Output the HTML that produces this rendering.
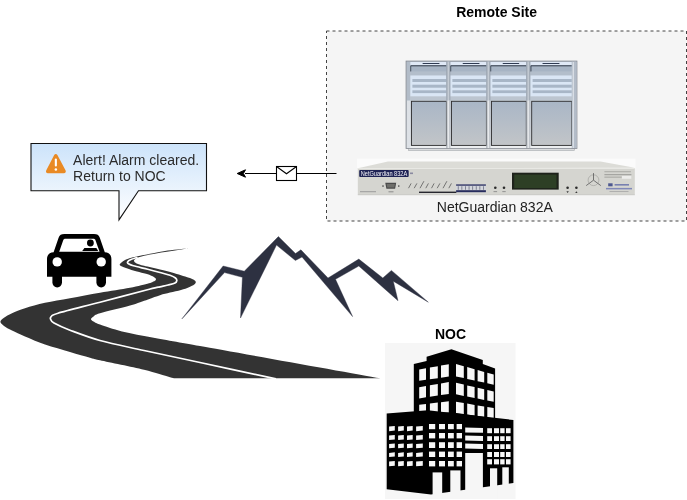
<!DOCTYPE html>
<html><head><meta charset="utf-8">
<style>
html,body{margin:0;padding:0;background:#fff;width:687px;height:500px;overflow:hidden}
svg{display:block}
text{font-family:"Liberation Sans",sans-serif}
svg{will-change:transform}
</style></head><body>
<svg width="687" height="500" viewBox="0 0 687 500">
<defs>
<linearGradient id="cg" x1="0" y1="0" x2="0" y2="1">
<stop offset="0" stop-color="#cce3fa"/><stop offset="1" stop-color="#ffffff"/>
</linearGradient>
<linearGradient id="door" x1="0" y1="0" x2="0" y2="1">
<stop offset="0" stop-color="#adbac8"/><stop offset="1" stop-color="#c6c9cc"/>
</linearGradient>
</defs>

<!-- Remote site container -->
<rect x="326.5" y="31" width="360" height="190" fill="#f5f5f5" stroke="#444" stroke-dasharray="3 3"/>
<text x="496.6" y="16.6" font-size="14" font-weight="bold" text-anchor="middle" fill="#000">Remote Site</text>

<!-- server racks -->
<g id="racks"><defs><linearGradient id="rdoor" x1="0" y1="0" x2="0" y2="1"><stop offset="0" stop-color="#a9b6c6"/><stop offset="1" stop-color="#c2c5c8"/></linearGradient><linearGradient id="rdiv" x1="0" y1="0" x2="1" y2="0"><stop offset="0" stop-color="#8f99a6"/><stop offset="0.5" stop-color="#c9d0d8"/><stop offset="1" stop-color="#8f99a6"/></linearGradient><linearGradient id="rdiv2" x1="0" y1="0" x2="1" y2="0"><stop offset="0" stop-color="#9da3ab"/><stop offset="0.5" stop-color="#eceef0"/><stop offset="1" stop-color="#a4aab2"/></linearGradient><linearGradient id="rside" x1="0" y1="0" x2="0" y2="1"><stop offset="0" stop-color="#b9c3d0"/><stop offset="1" stop-color="#d9dcdf"/></linearGradient></defs>
<rect x="408.5" y="148.2" width="166" height="2.4" fill="#dadcde" stroke="#a8abae" stroke-width="0.6"/>
<rect x="406.1" y="61.1" width="170.8" height="87.3" fill="url(#rside)" stroke="#868b93" stroke-width="0.9"/>
<rect x="410.2" y="62" width="36.2" height="3.4" fill="#e0e9f6"/>
<rect x="422.5" y="62.9" width="17.1" height="1.2" rx="0.6" fill="#2f3b52"/>
<rect x="410.2" y="65.3" width="36.2" height="6.4" fill="#a7b4c4"/>
<path d="M410.7 71.6V65.8H446.4" fill="none" stroke="#323c4b" stroke-width="1"/>
<rect x="410.2" y="71.7" width="36.2" height="3.8" fill="#b3becb"/>
<rect x="410.2" y="75.5" width="36.2" height="21" fill="#dae6f5"/>
<rect x="412.4" y="79.0" width="34.0" height="3.0" fill="#a8b6c7"/>
<rect x="412.4" y="84.7" width="34.0" height="3.0" fill="#a8b6c7"/>
<rect x="412.4" y="90.3" width="34.0" height="2.8" fill="#a8b6c7"/>
<rect x="410.2" y="96.5" width="36.2" height="4" fill="#bcc5d0"/>
<rect x="408.7" y="145.9" width="37.7" height="2.2" fill="#eceef0"/>
<rect x="411.5" y="101.3" width="34.9" height="44.1" fill="url(#rdoor)" stroke="#2e2e30" stroke-width="0.9"/>
<rect x="450.2" y="62" width="36.2" height="3.4" fill="#e0e9f6"/>
<rect x="462.6" y="62.9" width="17.0" height="1.2" rx="0.6" fill="#2f3b52"/>
<rect x="450.2" y="65.3" width="36.2" height="6.4" fill="#a7b4c4"/>
<path d="M450.7 71.6V65.8H486.4" fill="none" stroke="#323c4b" stroke-width="1"/>
<rect x="450.2" y="71.7" width="36.2" height="3.8" fill="#b3becb"/>
<rect x="450.2" y="75.5" width="36.2" height="21" fill="#dae6f5"/>
<rect x="452.4" y="79.0" width="34.0" height="3.0" fill="#a8b6c7"/>
<rect x="452.4" y="84.7" width="34.0" height="3.0" fill="#a8b6c7"/>
<rect x="452.4" y="90.3" width="34.0" height="2.8" fill="#a8b6c7"/>
<rect x="450.2" y="96.5" width="36.2" height="4" fill="#bcc5d0"/>
<rect x="448.7" y="145.9" width="37.7" height="2.2" fill="#eceef0"/>
<rect x="451.5" y="101.3" width="34.9" height="44.1" fill="url(#rdoor)" stroke="#2e2e30" stroke-width="0.9"/>
<rect x="490.2" y="62" width="36.1" height="3.4" fill="#e0e9f6"/>
<rect x="502.6" y="62.9" width="16.7" height="1.2" rx="0.6" fill="#2f3b52"/>
<rect x="490.2" y="65.3" width="36.1" height="6.4" fill="#a7b4c4"/>
<path d="M490.7 71.6V65.8H526.3" fill="none" stroke="#323c4b" stroke-width="1"/>
<rect x="490.2" y="71.7" width="36.1" height="3.8" fill="#b3becb"/>
<rect x="490.2" y="75.5" width="36.1" height="21" fill="#dae6f5"/>
<rect x="492.4" y="79.0" width="33.9" height="3.0" fill="#a8b6c7"/>
<rect x="492.4" y="84.7" width="33.9" height="3.0" fill="#a8b6c7"/>
<rect x="492.4" y="90.3" width="33.9" height="2.8" fill="#a8b6c7"/>
<rect x="490.2" y="96.5" width="36.1" height="4" fill="#bcc5d0"/>
<rect x="488.7" y="145.9" width="37.6" height="2.2" fill="#eceef0"/>
<rect x="491.5" y="101.3" width="34.8" height="44.1" fill="url(#rdoor)" stroke="#2e2e30" stroke-width="0.9"/>
<rect x="530.4" y="62" width="41.4" height="3.4" fill="#e0e9f6"/>
<rect x="542.4" y="62.9" width="17.2" height="1.2" rx="0.6" fill="#2f3b52"/>
<rect x="530.4" y="65.3" width="41.4" height="6.4" fill="#a7b4c4"/>
<path d="M530.9 71.6V65.8H571.8" fill="none" stroke="#323c4b" stroke-width="1"/>
<rect x="530.4" y="71.7" width="41.4" height="3.8" fill="#b3becb"/>
<rect x="530.4" y="75.5" width="41.4" height="21" fill="#dae6f5"/>
<rect x="532.6" y="79.0" width="39.2" height="3.0" fill="#a8b6c7"/>
<rect x="532.6" y="84.7" width="39.2" height="3.0" fill="#a8b6c7"/>
<rect x="532.6" y="90.3" width="39.2" height="2.8" fill="#a8b6c7"/>
<rect x="530.4" y="96.5" width="41.4" height="4" fill="#bcc5d0"/>
<rect x="528.9" y="145.9" width="42.9" height="2.2" fill="#eceef0"/>
<rect x="531.7" y="101.3" width="40.1" height="44.1" fill="url(#rdoor)" stroke="#2e2e30" stroke-width="0.9"/>
<rect x="446.4" y="61.6" width="3.9" height="39" fill="url(#rdiv)"/>
<rect x="446.4" y="100.6" width="3.9" height="47.5" fill="url(#rdiv2)"/>
<rect x="486.4" y="61.6" width="3.9" height="39" fill="url(#rdiv)"/>
<rect x="486.4" y="100.6" width="3.9" height="47.5" fill="url(#rdiv2)"/>
<rect x="526.3" y="61.6" width="3.9" height="39" fill="url(#rdiv)"/>
<rect x="526.3" y="100.6" width="3.9" height="47.5" fill="url(#rdiv2)"/>
<rect x="407" y="62" width="3.2" height="38.6" fill="#b2bcc8"/>
<rect x="407" y="100.6" width="3.2" height="47.4" fill="#dde1e6"/>
<rect x="571.8" y="61.6" width="4.8" height="86.5" fill="#b3bcc8"/>
<rect x="572.6" y="62" width="1.4" height="86" fill="#d8dde4"/></g>

<!-- device -->
<g id="device"><rect x="357" y="158.6" width="278.5" height="10" fill="#fbfbfb"/>
<path d="M357.8 168.2L388 161.4H600.5L634.8 167.8Z" fill="#dcdcd7"/>
<rect x="357.8" y="168" width="277" height="26.4" fill="#d5d5d0"/>
<rect x="357.8" y="168" width="277" height="1" fill="#e8e8e4"/>
<rect x="357.8" y="194.2" width="277" height="1" fill="#c6c6c2"/>
<rect x="359.2" y="170.1" width="49.5" height="6.9" rx="1" fill="#1f2354"/>
<text x="360.8" y="175.8" font-size="6.4" fill="#f4f4fa" textLength="46.4" lengthAdjust="spacingAndGlyphs">NetGuardian 832A</text>
<rect x="410" y="172.5" width="3" height="1.6" fill="#8a8aa0"/>
<path d="M385.3 182.8H396.2L395.1 188.8H386.4Z" fill="#4b4b4b"/>
<path d="M386.6 184H394.9L394.2 187.6H387.3Z" fill="#6e6e6a"/>
<circle cx="383" cy="186.1" r="0.8" fill="#444"/><circle cx="398.8" cy="186.1" r="0.8" fill="#444"/>
<rect x="360" y="191.2" width="16" height="1" fill="#9c9c9c"/>
<rect x="388.5" y="191.3" width="5" height="1" fill="#8a8a8a"/>
<path d="M408.5 188.2L411.1 183.4" stroke="#5a5a5a" stroke-width="0.8"/>
<path d="M414.2 188.2L416.9 183.4" stroke="#5a5a5a" stroke-width="0.8"/>
<path d="M420.0 188.2L423.9 181.2" stroke="#5a5a5a" stroke-width="0.8"/>
<path d="M425.8 188.2L428.4 183.4" stroke="#5a5a5a" stroke-width="0.8"/>
<path d="M431.5 188.2L434.1 183.4" stroke="#5a5a5a" stroke-width="0.8"/>
<path d="M437.2 188.2L439.9 183.4" stroke="#5a5a5a" stroke-width="0.8"/>
<path d="M443.0 188.2L446.9 181.2" stroke="#5a5a5a" stroke-width="0.8"/>
<path d="M448.8 188.2L451.4 183.4" stroke="#5a5a5a" stroke-width="0.8"/>
<rect x="419" y="191.6" width="37.4" height="1.4" fill="#26262e"/>
<rect x="456.1" y="184.4" width="29.8" height="7.8" fill="#d4d6dc"/>
<rect x="456.1" y="184.4" width="29.8" height="1.3" fill="#282d5e"/>
<rect x="456.1" y="190.2" width="29.8" height="2" fill="#282d5e"/>
<rect x="457.8" y="186.2" width="0.9" height="3.6" fill="#767a8c"/>
<rect x="461.4" y="186.2" width="0.9" height="3.6" fill="#767a8c"/>
<rect x="465.0" y="186.2" width="0.9" height="3.6" fill="#767a8c"/>
<rect x="468.6" y="186.2" width="0.9" height="3.6" fill="#767a8c"/>
<rect x="472.2" y="186.2" width="0.9" height="3.6" fill="#767a8c"/>
<rect x="475.8" y="186.2" width="0.9" height="3.6" fill="#767a8c"/>
<rect x="479.4" y="186.2" width="0.9" height="3.6" fill="#767a8c"/>
<rect x="483.0" y="186.2" width="0.9" height="3.6" fill="#767a8c"/>
<circle cx="495.3" cy="187.8" r="1.3" fill="#2a2a2a"/>
<circle cx="504.0" cy="187.8" r="1.3" fill="#2a2a2a"/>
<circle cx="567.6" cy="187.8" r="1.3" fill="#2a2a2a"/>
<circle cx="576.4" cy="187.8" r="1.3" fill="#2a2a2a"/>
<rect x="493.5" y="191.2" width="3.6" height="0.9" fill="#8a8a8a"/><rect x="502.3" y="191.2" width="3.4" height="0.9" fill="#8a8a8a"/>
<path d="M566.4 191.2h2.4l-1.2 1.8z" fill="#3a3a3a"/><path d="M575.2 193h2.4l-1.2-1.8z" fill="#3a3a3a"/>
<rect x="512" y="172.7" width="46.7" height="16.9" fill="#1e221b"/>
<rect x="514.2" y="174.6" width="42.3" height="13.5" fill="#2d3f25"/>
<circle cx="593.5" cy="180.2" r="5.4" fill="none" stroke="#a8a8a4" stroke-width="0.8"/>
<path d="M593.5 180.2V173.1M593.5 180.2L586.2 185.6M593.5 180.2L600.8 185.6" stroke="#666" stroke-width="0.9"/>
<rect x="604.4" y="171.3" width="26.5" height="0.9" fill="#a4a4a0"/>
<rect x="604.4" y="174.2" width="27" height="1" fill="#9a9a96"/>
<rect x="604.4" y="176.6" width="17.4" height="1.1" fill="#a8a8a4"/>
<rect x="621.9" y="175.9" width="9.4" height="2.9" fill="#ececea"/>
<rect x="608.2" y="183.3" width="4.4" height="3" fill="#4d5890"/>
<rect x="614.6" y="184" width="14.4" height="1.6" fill="#7880b0"/>
<rect x="606" y="187.9" width="26" height="1.5" fill="#8088b8"/>
<rect x="609.5" y="191.2" width="19" height="0.8" fill="#a6a6a6"/>
</g>
<text x="494.8" y="212.4" font-size="14" text-anchor="middle" fill="#222">NetGuardian 832A</text>

<!-- arrow + envelope -->
<path d="M336.5 173.5H245" stroke="#000" stroke-width="1" fill="none"/>
<path d="M237.2 173.5L245.5 169.8L243.4 173.5L245.5 177.2Z" fill="#000" stroke="#000" stroke-width="1"/>
<rect x="276.5" y="166.5" width="20" height="14" fill="#fff" stroke="#000" stroke-width="1.1"/>
<path d="M276.5 166.5L286.5 173.7L296.5 166.5" fill="none" stroke="#000" stroke-width="1.1"/>

<!-- callout -->
<path d="M31 143.5H206.5V190.8H138.5L119 219.9V190.8H31Z" fill="url(#cg)" stroke="#111" stroke-width="1.1"/>
<path d="M54.2 155c0.8-1.4 2.4-1.4 3.2 0l8.1 15.2c0.8 1.5 0.1 3-1.6 3h-16c-1.7 0-2.4-1.5-1.6-3Z" fill="#e98a24"/>
<rect x="54.8" y="158.6" width="2.1" height="8" rx="1" fill="#fff"/>
<circle cx="55.85" cy="169.4" r="1.25" fill="#fff"/>
<text x="73.1" y="164.8" font-size="14" fill="#2b2b2b">Alert! Alarm cleared.</text>
<text x="73.1" y="180.9" font-size="14" fill="#2b2b2b">Return to NOC</text>

<!-- car -->
<g id="car"><g fill="#000">
<path d="M47 259C47 254.8 49.6 252.2 53.6 252.2L58.6 237.8C59.6 235 61.2 234 64.4 234H94C97.2 234 98.8 235 99.8 237.8L104.8 252.2C108.8 252.2 111.4 254.8 111.4 259V276.8H47Z"/>
<rect x="52.4" y="268" width="9.6" height="19.4" rx="4.8"/>
<rect x="96.4" y="268" width="9.6" height="19.4" rx="4.8"/>
</g>
<path d="M64.6 238.8H94L95.2 239.6L99.6 251.8H59.2L63.4 239.8Z" fill="#fff"/>
<circle cx="57.2" cy="261.9" r="4.7" fill="#fff"/>
<circle cx="101.2" cy="261.9" r="4.7" fill="#fff"/>
<circle cx="90.4" cy="243" r="3.4" fill="#000"/>
<path d="M84.4 248.1H96.4L98.2 251H82.2Z" fill="#000"/></g>
<!-- road -->
<g id="road"><path d="M188.6 248.2C184.7 248.6 171.4 250.0 165.0 250.9C158.6 251.8 154.3 253.0 150.0 253.8C145.7 254.7 141.8 255.4 139.0 256.0C136.2 256.6 135.2 256.7 133.0 257.3C130.8 257.9 127.9 258.8 126.0 259.6C124.1 260.5 122.5 261.6 121.5 262.4C120.5 263.2 119.7 263.9 119.7 264.5C119.7 265.1 119.8 265.5 121.5 266.3C123.2 267.1 127.0 268.3 129.6 269.2C132.2 270.1 134.3 270.7 137.0 271.5C139.7 272.3 143.5 273.1 146.0 273.8C148.5 274.6 150.4 275.2 152.0 276.0C153.6 276.8 154.9 277.6 155.5 278.3C156.1 279.0 156.1 279.6 155.6 280.2C155.1 280.8 153.6 281.4 152.5 281.9C151.4 282.4 152.8 282.2 149.0 283.2C145.2 284.2 138.2 286.2 130.0 287.8C121.8 289.4 110.0 291.0 100.0 292.7C90.0 294.4 79.2 296.5 70.0 298.2C60.8 299.9 52.5 301.1 45.0 302.8C37.5 304.5 30.5 306.4 25.0 308.2C19.5 309.9 15.5 311.7 12.0 313.3C8.5 314.9 5.9 316.4 4.0 317.8C2.1 319.2 0.4 320.4 0.4 321.8C0.4 323.2 2.1 324.5 4.0 326.0C5.9 327.5 8.5 328.8 12.0 330.6C15.5 332.4 19.5 334.3 25.0 336.6C30.5 338.9 37.5 342.0 45.0 344.6C52.5 347.2 62.5 349.8 70.0 352.0C77.5 354.2 85.0 356.4 90.0 357.8C95.0 359.2 91.0 358.3 100.0 360.3C109.0 362.3 132.3 367.0 144.0 369.8C155.7 372.6 164.7 375.8 170.0 377.2C175.3 378.6 175.0 378.1 176.0 378.3C210.1 378.3 346.4 378.3 380.5 378.3C350.4 372.9 230.1 351.4 200.0 346.0C192.5 344.7 168.0 340.4 155.0 338.0C142.0 335.6 131.2 333.6 122.0 331.4C112.8 329.1 104.8 326.1 100.0 324.5C95.2 322.9 95.0 322.4 93.5 321.5C92.0 320.6 91.0 320.0 91.0 319.2C91.0 318.4 92.0 317.5 93.5 316.5C95.0 315.5 93.9 315.0 100.0 313.2C106.1 311.4 122.0 307.8 130.0 305.5C138.0 303.2 143.0 301.1 148.0 299.4C153.0 297.7 156.3 296.3 160.0 295.2C163.7 294.1 166.5 293.5 170.0 292.6C173.5 291.7 177.8 290.9 181.0 290.0C184.2 289.1 186.8 288.1 189.0 287.2C191.2 286.3 193.1 285.3 194.2 284.5C195.3 283.7 195.8 282.9 195.8 282.2C195.8 281.5 195.5 280.9 194.4 280.2C193.3 279.5 191.2 278.6 189.0 277.8C186.8 277.0 183.8 276.1 181.0 275.2C178.2 274.3 175.5 273.4 172.0 272.4C168.5 271.4 164.7 270.5 160.0 269.4C155.3 268.3 148.0 266.8 144.1 265.8C140.2 264.8 138.3 264.2 136.6 263.4C134.9 262.6 134.2 261.8 134.0 261.0C133.8 260.2 134.7 259.4 135.6 258.7C136.5 258.0 137.1 257.7 139.5 257.0C141.9 256.3 145.8 255.3 150.0 254.5C154.2 253.7 160.3 252.8 165.0 252.0C169.7 251.2 174.1 250.6 178.0 250.0C181.9 249.4 186.8 248.5 188.6 248.2Z" fill="#333"/>
<path d="M137.5 257.4C136.4 257.8 132.7 258.8 131.0 259.5C129.3 260.2 128.0 261.1 127.6 261.9C127.2 262.6 127.8 263.4 128.8 264.0C129.8 264.6 130.2 264.9 133.4 265.8C136.6 266.7 143.4 268.2 147.8 269.3C152.2 270.4 156.3 271.5 160.0 272.5C163.7 273.5 167.4 274.4 170.0 275.3C172.6 276.2 174.4 277.1 175.5 278.0C176.6 278.9 176.9 279.8 176.8 280.6C176.7 281.5 176.5 282.4 175.0 283.1C173.5 283.8 170.5 284.4 168.0 285.0C165.5 285.6 163.1 286.1 160.0 286.8C156.9 287.5 159.3 286.7 149.3 289.3C139.3 291.9 115.2 298.2 100.0 302.2C84.8 306.2 66.1 310.8 58.0 313.2C49.9 315.6 52.4 315.6 51.2 316.6C50.0 317.6 50.1 318.1 50.6 319.2C51.1 320.3 50.8 321.2 54.0 323.0C57.2 324.8 62.3 327.3 70.0 330.2C77.7 333.1 87.7 337.1 100.0 340.5C112.3 343.9 127.3 346.8 144.0 350.5C160.7 354.2 178.0 357.8 200.0 362.5C222.0 367.2 263.3 376.1 276.0 378.8" fill="none" stroke="#fff" stroke-width="1.7"/></g>
<!-- mountains -->
<g id="mount"><path d="M181.9 318.9 L223.1 266.0 L244.3 271.2 L278.4 236.6 L295.5 253.6 L300.9 249.8 L328.0 278.0 L358.8 259.1 L382.8 278.0 L391.4 270.4 L428.3 302.2 L393.3 281.2 L398.0 300.7 L358.8 266.0 L335.5 279.3 L352.6 316.6 L302.0 257.0 L295.4 260.5 L276.5 245.1 L240.5 318.0 L242.4 277.3 L224.5 272.6Z" fill="#2d3141" stroke="#2d3141" stroke-width="0.4" stroke-linejoin="miter"/></g>

<!-- NOC -->
<text x="450.5" y="338.8" font-size="14" font-weight="bold" text-anchor="middle" fill="#000">NOC</text>
<g id="noc"><rect x="385" y="343" width="130.5" height="156" fill="#f6f6f6"/>
<path d="M413.8 364L426.6 361V356.8L451.4 349.2L482.8 360V364L495.1 368.4V425H413.8Z" fill="#000"/>
<path d="M419.2 369.6L426.0 368.3L426.0 379.8L419.2 380.8Z" fill="#f7f7f7"/>
<path d="M429.9 367.6L437.8 366.2L437.8 378.2L429.9 379.3Z" fill="#f7f7f7"/>
<path d="M441.0 365.6L448.8 364.2L448.8 376.6L441.0 377.7Z" fill="#f7f7f7"/>
<path d="M419.2 387.2L426.0 386.0L426.0 397.3L419.2 398.4Z" fill="#f7f7f7"/>
<path d="M429.9 385.3L437.8 384.0L437.8 395.6L429.9 396.8Z" fill="#f7f7f7"/>
<path d="M441.0 383.5L448.8 382.1L448.8 393.9L441.0 395.1Z" fill="#f7f7f7"/>
<path d="M419.2 404.8L426.0 404.0L426.0 412.5L419.2 412.5Z" fill="#f7f7f7"/>
<path d="M429.9 403.5L437.8 402.5L437.8 412.5L429.9 412.5Z" fill="#f7f7f7"/>
<path d="M441.0 402.2L448.8 401.2L448.8 412.5L441.0 412.5Z" fill="#f7f7f7"/>
<path d="M456.0 364.0L463.8 366.2L463.8 378.1L456.0 376.4Z" fill="#f7f7f7"/>
<path d="M467.2 367.1L474.6 369.2L474.6 380.5L467.2 378.9Z" fill="#f7f7f7"/>
<path d="M477.6 370.0L484.2 371.9L484.2 382.6L477.6 381.2Z" fill="#f7f7f7"/>
<path d="M487.3 372.8L493.7 374.6L493.7 384.7L487.3 383.3Z" fill="#f7f7f7"/>
<path d="M456.0 382.8L463.8 384.6L463.8 395.9L456.0 394.3Z" fill="#f7f7f7"/>
<path d="M467.2 385.4L474.6 387.1L474.6 398.0L467.2 396.5Z" fill="#f7f7f7"/>
<path d="M477.6 387.8L484.2 389.3L484.2 399.9L477.6 398.6Z" fill="#f7f7f7"/>
<path d="M487.3 390.0L493.7 391.5L493.7 401.8L487.3 400.6Z" fill="#f7f7f7"/>
<path d="M456.0 401.8L463.8 403.1L463.8 414.1L456.0 413.0Z" fill="#f7f7f7"/>
<path d="M467.2 403.6L474.6 404.9L474.6 415.6L467.2 414.6Z" fill="#f7f7f7"/>
<path d="M477.6 405.4L484.2 406.5L484.2 416.9L477.6 416.0Z" fill="#f7f7f7"/>
<path d="M487.3 407.0L493.7 408.0L493.7 418.3L487.3 417.4Z" fill="#f7f7f7"/>
<path d="M386.7 413.6L427.8 410.3L513.4 420V483L431 494.4L386.7 489.2Z" fill="#000"/>
<path d="M389.1 426.6L394.8 426.0L394.8 430.6L389.1 431.2Z" fill="#f7f7f7"/>
<path d="M398.1 426.6L403.8 426.0L403.8 430.6L398.1 431.2Z" fill="#f7f7f7"/>
<path d="M407.0 426.6L412.7 426.0L412.7 430.6L407.0 431.2Z" fill="#f7f7f7"/>
<path d="M416.1 426.6L422.8 426.0L422.8 430.6L416.1 431.2Z" fill="#f7f7f7"/>
<path d="M389.1 435.5L394.8 434.9L394.8 439.5L389.1 440.1Z" fill="#f7f7f7"/>
<path d="M398.1 435.5L403.8 434.9L403.8 439.5L398.1 440.1Z" fill="#f7f7f7"/>
<path d="M407.0 435.5L412.7 434.9L412.7 439.5L407.0 440.1Z" fill="#f7f7f7"/>
<path d="M416.1 435.5L422.8 434.9L422.8 439.5L416.1 440.1Z" fill="#f7f7f7"/>
<path d="M389.1 444.1L394.8 443.5L394.8 447.7L389.1 448.3Z" fill="#f7f7f7"/>
<path d="M398.1 444.1L403.8 443.5L403.8 447.7L398.1 448.3Z" fill="#f7f7f7"/>
<path d="M407.0 444.1L412.7 443.5L412.7 447.7L407.0 448.3Z" fill="#f7f7f7"/>
<path d="M416.1 444.1L422.8 443.5L422.8 447.7L416.1 448.3Z" fill="#f7f7f7"/>
<path d="M389.1 452.9L394.8 452.3L394.8 456.5L389.1 457.1Z" fill="#f7f7f7"/>
<path d="M398.1 452.9L403.8 452.3L403.8 456.5L398.1 457.1Z" fill="#f7f7f7"/>
<path d="M407.0 452.9L412.7 452.3L412.7 456.5L407.0 457.1Z" fill="#f7f7f7"/>
<path d="M416.1 452.9L422.8 452.3L422.8 456.5L416.1 457.1Z" fill="#f7f7f7"/>
<path d="M389.1 461.5L394.8 460.9L394.8 465.7L389.1 466.3Z" fill="#f7f7f7"/>
<path d="M398.1 461.5L403.8 460.9L403.8 465.7L398.1 466.3Z" fill="#f7f7f7"/>
<path d="M407.0 461.5L412.7 460.9L412.7 465.7L407.0 466.3Z" fill="#f7f7f7"/>
<path d="M416.1 461.5L422.8 460.9L422.8 465.7L416.1 466.3Z" fill="#f7f7f7"/>
<path d="M429.0 424.0L435.2 424.0L435.2 429.2L429.0 429.2Z" fill="#f7f7f7"/>
<path d="M439.0 424.0L445.0 424.0L445.0 429.2L439.0 429.2Z" fill="#f7f7f7"/>
<path d="M448.0 424.0L453.8 424.0L453.8 429.2L448.0 429.2Z" fill="#f7f7f7"/>
<path d="M456.6 424.0L462.0 424.0L462.0 429.2L456.6 429.2Z" fill="#f7f7f7"/>
<path d="M429.0 433.0L435.2 433.0L435.2 438.4L429.0 438.4Z" fill="#f7f7f7"/>
<path d="M439.0 433.0L445.0 433.0L445.0 438.4L439.0 438.4Z" fill="#f7f7f7"/>
<path d="M448.0 433.0L453.8 433.0L453.8 438.4L448.0 438.4Z" fill="#f7f7f7"/>
<path d="M456.6 433.0L462.0 433.0L462.0 438.4L456.6 438.4Z" fill="#f7f7f7"/>
<path d="M429.0 442.2L435.2 442.2L435.2 448.0L429.0 448.0Z" fill="#f7f7f7"/>
<path d="M439.0 442.2L445.0 442.2L445.0 448.0L439.0 448.0Z" fill="#f7f7f7"/>
<path d="M448.0 442.2L453.8 442.2L453.8 448.0L448.0 448.0Z" fill="#f7f7f7"/>
<path d="M456.6 442.2L462.0 442.2L462.0 448.0L456.6 448.0Z" fill="#f7f7f7"/>
<path d="M429.0 451.6L435.2 451.6L435.2 457.0L429.0 457.0Z" fill="#f7f7f7"/>
<path d="M439.0 451.6L445.0 451.6L445.0 457.0L439.0 457.0Z" fill="#f7f7f7"/>
<path d="M448.0 451.6L453.8 451.6L453.8 457.0L448.0 457.0Z" fill="#f7f7f7"/>
<path d="M456.6 451.6L462.0 451.6L462.0 457.0L456.6 457.0Z" fill="#f7f7f7"/>
<path d="M429.0 461.0L435.2 461.0L435.2 466.4L429.0 466.4Z" fill="#f7f7f7"/>
<path d="M439.0 461.0L445.0 461.0L445.0 466.4L439.0 466.4Z" fill="#f7f7f7"/>
<path d="M448.0 461.0L453.8 461.0L453.8 466.4L448.0 466.4Z" fill="#f7f7f7"/>
<path d="M456.6 461.0L462.0 461.0L462.0 466.4L456.6 466.4Z" fill="#f7f7f7"/>
<path d="M465.2 427.6L483.0 428.0L483.0 432.8L465.2 432.4Z" fill="#f7f7f7"/>
<path d="M465.2 435.6L483.0 436.0L483.0 441.0L465.2 440.6Z" fill="#f7f7f7"/>
<path d="M465.2 443.6L483.0 444.0L483.0 449.0L465.2 448.6Z" fill="#f7f7f7"/>
<path d="M487.2 428.2L492.0 428.2L492.0 433.2L487.2 433.2Z" fill="#f7f7f7"/>
<path d="M494.0 428.2L499.0 428.2L499.0 433.2L494.0 433.2Z" fill="#f7f7f7"/>
<path d="M500.2 428.2L504.6 428.2L504.6 433.2L500.2 433.2Z" fill="#f7f7f7"/>
<path d="M506.0 428.2L510.6 428.2L510.6 433.2L506.0 433.2Z" fill="#f7f7f7"/>
<path d="M487.2 436.2L492.0 436.2L492.0 441.0L487.2 441.0Z" fill="#f7f7f7"/>
<path d="M494.0 436.2L499.0 436.2L499.0 441.0L494.0 441.0Z" fill="#f7f7f7"/>
<path d="M500.2 436.2L504.6 436.2L504.6 441.0L500.2 441.0Z" fill="#f7f7f7"/>
<path d="M506.0 436.2L510.6 436.2L510.6 441.0L506.0 441.0Z" fill="#f7f7f7"/>
<path d="M487.2 444.2L492.0 444.2L492.0 449.0L487.2 449.0Z" fill="#f7f7f7"/>
<path d="M494.0 444.2L499.0 444.2L499.0 449.0L494.0 449.0Z" fill="#f7f7f7"/>
<path d="M500.2 444.2L504.6 444.2L504.6 449.0L500.2 449.0Z" fill="#f7f7f7"/>
<path d="M506.0 444.2L510.6 444.2L510.6 449.0L506.0 449.0Z" fill="#f7f7f7"/>
<path d="M487.2 452.0L492.0 452.0L492.0 457.0L487.2 457.0Z" fill="#f7f7f7"/>
<path d="M494.0 452.0L499.0 452.0L499.0 457.0L494.0 457.0Z" fill="#f7f7f7"/>
<path d="M500.2 452.0L504.6 452.0L504.6 457.0L500.2 457.0Z" fill="#f7f7f7"/>
<path d="M506.0 452.0L510.6 452.0L510.6 457.0L506.0 457.0Z" fill="#f7f7f7"/>
<path d="M487.2 459.2L492.0 459.2L492.0 464.4L487.2 464.4Z" fill="#f7f7f7"/>
<path d="M494.0 459.2L499.0 459.2L499.0 464.4L494.0 464.4Z" fill="#f7f7f7"/>
<path d="M500.2 459.2L504.6 459.2L504.6 464.4L500.2 464.4Z" fill="#f7f7f7"/>
<path d="M506.0 459.2L510.6 459.2L510.6 464.4L506.0 464.4Z" fill="#f7f7f7"/>
<path d="M465.2 453.0L482.9 453.0L482.9 499.0L465.2 499.0Z" fill="#f6f6f6"/>
<path d="M432.6 472.4L442.2 472.4L442.2 499.0L432.6 499.0Z" fill="#f6f6f6"/>
<path d="M450.3 470.4L460.5 470.4L460.5 499.0L450.3 499.0Z" fill="#f6f6f6"/>
<path d="M490.0 468.3L497.2 468.3L497.2 499.0L490.0 499.0Z" fill="#f6f6f6"/>
<path d="M502.3 467.3L508.8 467.3L508.8 499.0L502.3 499.0Z" fill="#f6f6f6"/></g>
</svg>
</body></html>
